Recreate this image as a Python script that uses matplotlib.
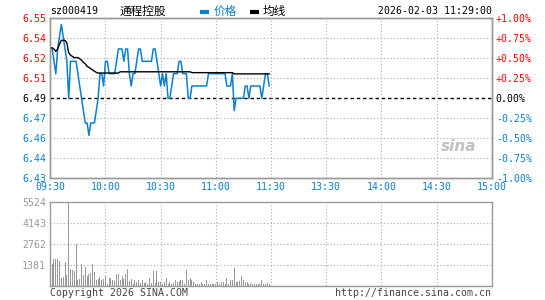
import matplotlib
matplotlib.use('Agg')
import matplotlib.pyplot as plt
from matplotlib.lines import Line2D

# ---------------- data ----------------
prev_close = 6.49
code = "sz000419"
name = "通程控股"
timestamp = "2026-02-03 11:29:00"

prices = [6.53, 6.53, 6.52, 6.51, 6.53, 6.54, 6.55, 6.54, 6.53, 6.52,
          6.49, 6.52, 6.52, 6.52, 6.52, 6.51, 6.50, 6.49, 6.48, 6.47,
          6.47, 6.46, 6.47, 6.47, 6.47, 6.48, 6.49, 6.51, 6.51, 6.50,
          6.52, 6.52, 6.51, 6.51, 6.51, 6.51, 6.52, 6.53, 6.53, 6.53,
          6.52, 6.53, 6.53, 6.51, 6.50, 6.51, 6.51, 6.52, 6.53, 6.53,
          6.52, 6.52, 6.52, 6.52, 6.52, 6.52, 6.53, 6.53, 6.52, 6.51,
          6.50, 6.51, 6.50, 6.51, 6.49, 6.49, 6.50, 6.51, 6.51, 6.51,
          6.52, 6.52, 6.51, 6.51, 6.51, 6.49, 6.49, 6.50, 6.50, 6.50,
          6.50, 6.50, 6.50, 6.50, 6.50, 6.50, 6.51, 6.51, 6.51, 6.51,
          6.51, 6.51, 6.51, 6.51, 6.51, 6.51, 6.50, 6.50, 6.50, 6.51,
          6.48, 6.49, 6.49, 6.49, 6.49, 6.49, 6.50, 6.50, 6.49, 6.50,
          6.50, 6.50, 6.50, 6.50, 6.50, 6.49, 6.50, 6.51, 6.51, 6.50]

avg_prices = [6.531, 6.531, 6.530, 6.528, 6.530, 6.534, 6.537, 6.537, 6.537, 6.535,
              6.527, 6.525, 6.524, 6.523, 6.523, 6.523, 6.522, 6.521, 6.519, 6.518,
              6.516, 6.515, 6.514, 6.513, 6.512, 6.511, 6.5105, 6.5105, 6.5105, 6.5105,
              6.5105, 6.5105, 6.5105, 6.5105, 6.5105, 6.5105, 6.5105, 6.5105, 6.5115, 6.5115,
              6.5115, 6.5115, 6.5115, 6.5115, 6.5115, 6.5115, 6.5115, 6.5115, 6.5115, 6.5115,
              6.5115, 6.5115, 6.5115, 6.5115, 6.5115, 6.5115, 6.5115, 6.5115, 6.5115, 6.5115,
              6.5115, 6.5115, 6.5115, 6.5115, 6.5115, 6.5115, 6.5115, 6.5115, 6.5115, 6.5115,
              6.5115, 6.5115, 6.5115, 6.5115, 6.5115, 6.5115, 6.5115, 6.5108, 6.5108, 6.5108,
              6.5108, 6.5108, 6.5108, 6.5108, 6.5108, 6.5108, 6.5108, 6.5108, 6.5108, 6.5108,
              6.5108, 6.5108, 6.5108, 6.5108, 6.5108, 6.5108, 6.5108, 6.5108, 6.5108, 6.5108,
              6.5098, 6.5098, 6.5098, 6.5098, 6.5098, 6.5098, 6.5098, 6.5098, 6.5098, 6.5098,
              6.5098, 6.5098, 6.5098, 6.5098, 6.5098, 6.5098, 6.5098, 6.5098, 6.5098, 6.5098]

volumes = [285, 1392, 1770, 1730, 1770, 1592, 484, 550, 1550, 663,
           5524, 1061, 995, 950, 2762, 330, 400, 1392, 663, 1215,
           597, 774, 818, 1392, 884, 375, 420, 550, 330, 442,
           597, 110, 508, 464, 375, 285, 730, 730, 330, 640,
           442, 730, 1061, 285, 442, 110, 375, 200, 330, 150,
           330, 150, 245, 110, 464, 150, 928, 150, 928, 220,
           220, 110, 220, 464, 110, 245, 110, 150, 330, 200,
           285, 330, 330, 66, 995, 330, 464, 375, 245, 110,
           110, 110, 245, 110, 110, 375, 66, 110, 110, 110,
           66, 220, 110, 200, 200, 66, 508, 110, 330, 330,
           1170, 200, 200, 285, 597, 330, 245, 200, 110, 150,
           110, 110, 110, 110, 110, 330, 66, 110, 150, 66]

time_ticks = [0, 30, 60, 90, 120, 150, 180, 210, 240]
time_labels = ["09:30", "10:00", "10:30", "11:00", "11:30", "13:30", "14:00", "14:30", "15:00"]
pct_steps = [-1.00, -0.75, -0.50, -0.25, 0.00, 0.25, 0.50, 0.75, 1.00]
left_labels = ["6.43", "6.44", "6.46", "6.47", "6.49", "6.51", "6.52", "6.54", "6.55"]
right_labels = ["-1.00%", "-0.75%", "-0.50%", "-0.25%", "0.00%", "+0.25%", "+0.50%", "+0.75%", "+1.00%"]
vol_ticks = [1381, 2762, 4143, 5524]
vol_labels = ["1381", "2762", "4143", "5524"]

# ---------------- style ----------------
BLUE = '#0a80cc'
RED = '#ff0000'
GRAY = '#999999'
GRID = '#aaaaaa'
MONO = 'DejaVu Sans Mono'
FS = 7.1
W, H = 545.0, 300.0

def fx(px):
    return px / W

def fy(py):
    return 1 - py / H

fig = plt.figure(figsize=(W / 100, H / 100), dpi=100)
L, R = 50.3, 491.7
ax = fig.add_axes([fx(L), fy(178.3), (R - L) / W, 160 / H])
axv = fig.add_axes([fx(L), fy(285.5), (R - L) / W, (285.5 - 201.7) / H])

levels = [prev_close * (1 + p / 100) for p in pct_steps]

# main price panel
minutes = list(range(len(prices)))
ax.set_xlim(0, 240)
ax.set_ylim(levels[0], levels[-1])
for lv, p in zip(levels, pct_steps):
    if p == 0:
        ax.axhline(lv, color='black', lw=1.0, ls=(0, (2.5, 2)), zorder=1)
    elif abs(p) < 1:
        ax.axhline(lv, color=GRID, lw=0.8, ls=(0, (1, 2)), zorder=1)
for t in time_ticks[1:-1]:
    ax.axvline(t, color=GRID, lw=0.8, ls=(0, (1, 2)), zorder=1)
ax.plot(minutes, prices, color=BLUE, lw=1.1, zorder=3)
ax.plot(minutes, avg_prices, color='black', lw=1.0, zorder=4)

for s in ax.spines.values():
    s.set_color(GRAY)
    s.set_linewidth(1.0)

ax.set_yticks(levels)
ax.set_yticklabels(left_labels, fontfamily=MONO, fontsize=FS)
for lbl, p in zip(ax.get_yticklabels(), pct_steps):
    lbl.set_color(RED if p > 0 else ('black' if p == 0 else BLUE))
ax.tick_params(axis='y', length=0, pad=3)

ax.set_xticks(time_ticks)
ax.set_xticklabels(time_labels, fontfamily=MONO, fontsize=FS, color=BLUE)
ax.tick_params(axis='x', length=0, pad=3)

ax2 = ax.twinx()
ax2.set_ylim(levels[0], levels[-1])
ax2.set_yticks(levels)
ax2.set_yticklabels(right_labels, fontfamily=MONO, fontsize=FS)
for lbl, p in zip(ax2.get_yticklabels(), pct_steps):
    lbl.set_color(RED if p > 0 else ('black' if p == 0 else BLUE))
ax2.tick_params(axis='y', length=0, pad=3)
for s in ax2.spines.values():
    s.set_color(GRAY)
    s.set_linewidth(1.0)

# watermark
ax.text(0.965, 0.2, "sina", transform=ax.transAxes, ha='right', va='center',
        fontsize=11, fontweight='bold', fontstyle='italic', color='#c0c0c0', zorder=2)

# volume panel
axv.set_xlim(0, 240)
axv.set_ylim(0, vol_ticks[-1])
for v in vol_ticks[:-1]:
    axv.axhline(v, color=GRID, lw=0.8, ls=(0, (1, 2)), zorder=1)
for t in time_ticks[1:-1]:
    axv.axvline(t, color=GRID, lw=0.8, ls=(0, (1, 2)), zorder=1)
axv.bar(minutes, volumes, width=0.55, color=GRAY, zorder=3)
axv.set_xticks([])
axv.set_yticks(vol_ticks)
axv.set_yticklabels(vol_labels, fontfamily=MONO, fontsize=FS, color=GRAY)
axv.tick_params(axis='y', length=0, pad=3)
for s in axv.spines.values():
    s.set_color(GRAY)
    s.set_linewidth(1.0)

# header
fig.text(fx(50), fy(11.5), code, fontfamily=MONO, fontsize=FS, color='black', va='center', ha='left')
fig.text(fx(120), fy(11.5), name, fontfamily=['Noto Sans CJK SC', 'DejaVu Sans'], fontsize=8.4,
         color='black', va='center', ha='left')
fig.add_artist(Line2D([fx(200), fx(209)], [fy(12), fy(12)], color=BLUE, lw=3, solid_capstyle='butt'))
fig.text(fx(214), fy(11.5), "价格", fontfamily=['Noto Sans CJK SC', 'DejaVu Sans'], fontsize=8.4,
         color=BLUE, va='center', ha='left')
fig.add_artist(Line2D([fx(250), fx(259)], [fy(12), fy(12)], color='black', lw=3, solid_capstyle='butt'))
fig.text(fx(263), fy(11.5), "均线", fontfamily=['Noto Sans CJK SC', 'DejaVu Sans'], fontsize=8.4,
         color='black', va='center', ha='left')
fig.text(fx(491.5), fy(11.5), timestamp, fontfamily=MONO, fontsize=FS, color='black', va='center', ha='right')

# footer
fig.text(fx(50), fy(292.5), "Copyright 2026 SINA.COM", fontfamily=MONO, fontsize=FS,
         color='#444444', va='center', ha='left')
fig.text(fx(491.5), fy(292.5), "http://finance.sina.com.cn", fontfamily=MONO, fontsize=FS,
         color='#444444', va='center', ha='right')

fig.savefig('out.png', dpi=100, facecolor='white')
